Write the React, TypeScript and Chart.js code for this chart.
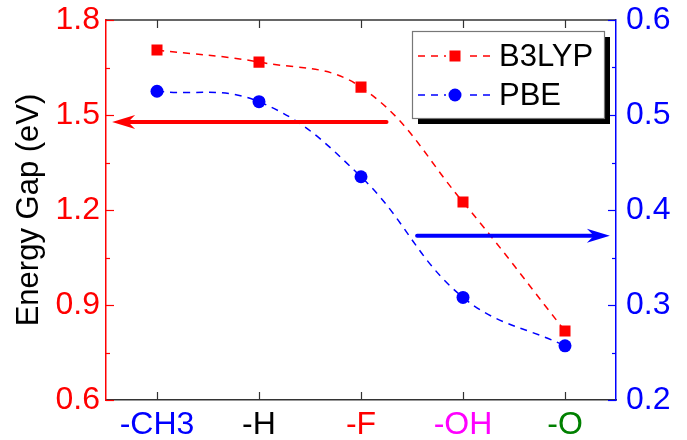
import React, { useEffect, useRef } from "react";
import { Chart, registerables } from "chart.js";

Chart.register(...registerables);

const categories = ["-CH3", "-H", "-F", "-OH", "-O"];
const categoryColors = ["#0000ff", "#000000", "#ff0000", "#ff00ff", "#008000"];
const b3lypValues = [1.705, 1.667, 1.588, 1.225, 0.818];
const pbeValues = [0.525, 0.514, 0.435, 0.308, 0.257];
const leftTicks = [0.6, 0.9, 1.2, 1.5, 1.8];
const rightTicks = [0.2, 0.3, 0.4, 0.5, 0.6];

// arrow annotations: [categoryIndex, value] on given axis
const arrowFrom = [[2.25, 1.478], [2.55, 0.373]];
const arrowTo = [[-0.44, 1.478], [4.44, 0.373]];
const arrowAxis = ["y", "y2"];
const arrowColors = ["#ff0000", "#0000ff"];

const FONT = "'Liberation Sans', Arial, Helvetica, sans-serif";

const decorPlugin = {
  id: "decor",
  afterDatasetsDraw(chart: any) {
    const { ctx, chartArea } = chart;
    const { left, right, top, bottom } = chartArea;
    const xs = chart.scales.x;
    const ys = chart.scales.y;
    const y2 = chart.scales.y2;
    ctx.save();
    // top frame
    ctx.strokeStyle = "#333333";
    ctx.lineWidth = 1.5;
    ctx.beginPath();
    ctx.moveTo(left, top);
    ctx.lineTo(right, top);
    ctx.stroke();
    // x ticks bottom & top
    ctx.strokeStyle = "#333333";
    ctx.lineWidth = 1.2;
    for (let i = 0; i < categories.length; i++) {
      const px = Math.round(xs.getPixelForValue(i)) + 0.5;
      ctx.beginPath();
      ctx.moveTo(px, bottom);
      ctx.lineTo(px, bottom - 8);
      ctx.moveTo(px, top);
      ctx.lineTo(px, top + 8);
      ctx.stroke();
    }
    // left ticks
    ctx.strokeStyle = "#ff0000";
    for (let i = 0; i < leftTicks.length; i++) {
      const py = Math.round(ys.getPixelForValue(leftTicks[i])) + 0.5;
      ctx.beginPath();
      ctx.moveTo(left, py);
      ctx.lineTo(left + 8, py);
      ctx.stroke();
      if (i < leftTicks.length - 1) {
        const my = Math.round(ys.getPixelForValue((leftTicks[i] + leftTicks[i + 1]) / 2)) + 0.5;
        ctx.beginPath();
        ctx.moveTo(left, my);
        ctx.lineTo(left + 4, my);
        ctx.stroke();
      }
    }
    // right ticks
    ctx.strokeStyle = "#0000ff";
    for (let i = 0; i < rightTicks.length; i++) {
      const py = Math.round(y2.getPixelForValue(rightTicks[i])) + 0.5;
      ctx.beginPath();
      ctx.moveTo(right, py);
      ctx.lineTo(right - 8, py);
      ctx.stroke();
      if (i < rightTicks.length - 1) {
        const my = Math.round(y2.getPixelForValue((rightTicks[i] + rightTicks[i + 1]) / 2)) + 0.5;
        ctx.beginPath();
        ctx.moveTo(right, my);
        ctx.lineTo(right - 4, my);
        ctx.stroke();
      }
    }
    // arrows
    const x0 = xs.getPixelForValue(0);
    const dx = xs.getPixelForValue(1) - x0;
    for (let a = 0; a < arrowFrom.length; a++) {
      const sc = chart.scales[arrowAxis[a]];
      const fx = x0 + arrowFrom[a][0] * dx;
      const fy = sc.getPixelForValue(arrowFrom[a][1]);
      const tx = x0 + arrowTo[a][0] * dx;
      const ty = sc.getPixelForValue(arrowTo[a][1]);
      const ang = Math.atan2(ty - fy, tx - fx);
      const headLen = 23;
      const headW = 7;
      const notch = 16;
      ctx.strokeStyle = arrowColors[a];
      ctx.fillStyle = arrowColors[a];
      ctx.lineWidth = 4;
      ctx.lineCap = "round";
      ctx.beginPath();
      ctx.moveTo(fx, fy);
      ctx.lineTo(tx - Math.cos(ang) * notch, ty - Math.sin(ang) * notch);
      ctx.stroke();
      const cos = Math.cos(ang), sin = Math.sin(ang);
      const bx = tx - cos * headLen, by = ty - sin * headLen;
      const nx = tx - cos * notch, ny = ty - sin * notch;
      ctx.beginPath();
      ctx.moveTo(tx, ty);
      ctx.lineTo(bx - sin * headW, by + cos * headW);
      ctx.lineTo(nx, ny);
      ctx.lineTo(bx + sin * headW, by - cos * headW);
      ctx.closePath();
      ctx.fill();
    }
    // legend
    const lx = 412, ly = 31, lw = 192, lh = 87;
    ctx.fillStyle = "#000000";
    ctx.fillRect(lx + 6, ly + 6, lw, lh);
    ctx.fillStyle = "#ffffff";
    ctx.fillRect(lx, ly, lw, lh);
    ctx.strokeStyle = "#777777";
    ctx.lineWidth = 1.2;
    ctx.strokeRect(lx + 0.5, ly + 0.5, lw, lh);
    const rowsY = [56, 95];
    chart.data.datasets.forEach((ds: any, i: number) => {
      const ry = rowsY[i];
      ctx.strokeStyle = ds.borderColor;
      ctx.lineWidth = 1.5;
      ctx.lineCap = "butt";
      ctx.setLineDash([7, 6]);
      ctx.beginPath();
      ctx.moveTo(418, ry);
      ctx.lineTo(491, ry);
      ctx.stroke();
      ctx.setLineDash([]);
      ctx.fillStyle = "#ffffff";
      ctx.fillRect(446, ry - 8, 18, 16);
      ctx.fillStyle = ds.borderColor;
      if (ds.pointStyle === "rect") {
        ctx.fillRect(455 - 5.5, ry - 5.5, 11, 11);
      } else {
        ctx.beginPath();
        ctx.arc(455, ry, 6.5, 0, Math.PI * 2);
        ctx.fill();
      }
      ctx.fillStyle = "#000000";
      ctx.font = `31px ${FONT}`;
      ctx.textBaseline = "middle";
      ctx.textAlign = "left";
      ctx.fillText(ds.label, 499, ry + 1);
    });
    ctx.restore();
  },
};

const fixV = (w: number) => (s: any) => {
  s.width = w;
  s.paddingTop = 0;
  s.paddingBottom = 0;
};

export default function App() {
  const ref = useRef<HTMLCanvasElement | null>(null);
  useEffect(() => {
    if (!ref.current) return;
    const chart = new Chart(ref.current, {
      type: "line",
      data: {
        labels: categories,
        datasets: [
          {
            label: "B3LYP",
            data: b3lypValues,
            yAxisID: "y",
            borderColor: "#ff0000",
            backgroundColor: "#ff0000",
            borderWidth: 1.5,
            borderDash: [7, 6],
            tension: 0.4,
            pointStyle: "rect",
            pointRadius: 7.8,
            pointBorderWidth: 0,
            pointBackgroundColor: "#ff0000",
          },
          {
            label: "PBE",
            data: pbeValues,
            yAxisID: "y2",
            borderColor: "#0000ff",
            backgroundColor: "#0000ff",
            borderWidth: 1.5,
            borderDash: [7, 6],
            tension: 0.4,
            pointStyle: "circle",
            pointRadius: 6.5,
            pointBorderWidth: 0,
            pointBackgroundColor: "#0000ff",
          },
        ],
      },
      options: {
        responsive: false,
        animation: false,
        devicePixelRatio: 1,
        layout: { padding: { top: 20, left: 0, right: 0, bottom: 0 } },
        plugins: { legend: { display: false }, tooltip: { enabled: false } },
        scales: {
          x: {
            type: "category",
            offset: true,
            grid: { display: false, drawTicks: false },
            border: { display: true, color: "#333333", width: 1.5 },
            ticks: {
              color: (c: any) => categoryColors[c.index],
              font: { family: FONT, size: 32 },
              padding: 6,
              maxRotation: 0,
              autoSkip: false,
            },
            afterFit: (s: any) => {
              s.height = 40;
              s.paddingLeft = 0;
              s.paddingRight = 0;
            },
          },
          y: {
            position: "left",
            min: 0.6,
            max: 1.8,
            grid: { display: false, drawTicks: false },
            border: { display: true, color: "#ff0000", width: 1.5 },
            ticks: {
              stepSize: 0.3,
              color: "#ff0000",
              font: { family: FONT, size: 32 },
              padding: 6,
              callback: (v: any) => Number(v).toFixed(1),
            },
            title: {
              display: true,
              text: "Energy Gap (eV)",
              color: "#000000",
              font: { family: FONT, size: 31 },
              padding: { top: 11, bottom: 0 },
            },
            afterFit: fixV(106),
          },
          y2: {
            position: "right",
            min: 0.2,
            max: 0.6,
            grid: { display: false, drawTicks: false },
            border: { display: true, color: "#0000ff", width: 1.5 },
            ticks: {
              stepSize: 0.1,
              color: "#0000ff",
              font: { family: FONT, size: 32 },
              padding: 10,
              callback: (v: any) => Number(v).toFixed(1),
            },
            afterFit: fixV(71),
          },
        },
      },
      plugins: [decorPlugin],
    });
    return () => chart.destroy();
  }, []);
  return (
    <div style={{ position: "fixed", left: 0, top: 0, width: 687, height: 440, background: "#ffffff" }}>
      <canvas ref={ref} width={687} height={440} />
    </div>
  );
}
